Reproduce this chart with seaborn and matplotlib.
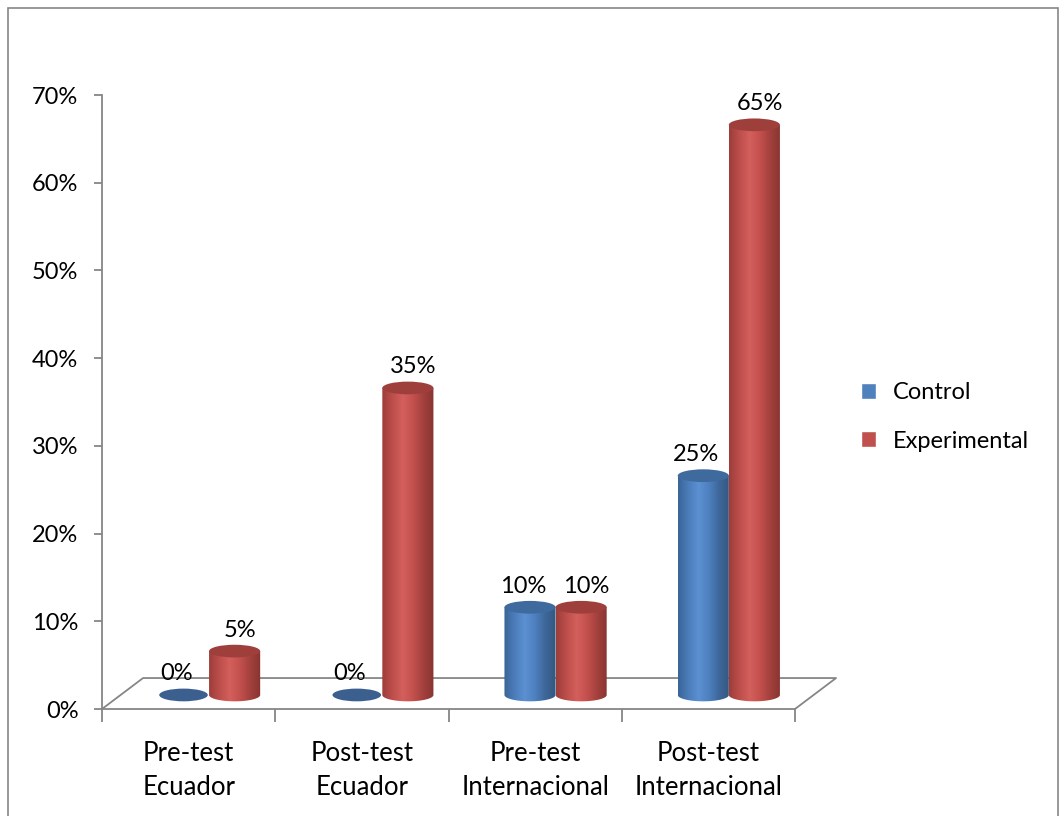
import numpy as np
import pandas as pd
import matplotlib
matplotlib.use("Agg")
import matplotlib.pyplot as plt
import seaborn as sns
from matplotlib.patches import Ellipse, PathPatch, Rectangle
from matplotlib.path import Path
from matplotlib.colors import LinearSegmentedColormap
from matplotlib.lines import Line2D

categories = ["Pre-test\nEcuador", "Post-test\nEcuador", "Pre-test\nInternacional", "Post-test\nInternacional"]
series = ["Control", "Experimental"]
control = [0, 0, 10, 25]
experimental = [5, 35, 10, 65]
yticks = [0, 10, 20, 30, 40, 50, 60, 70]
ytick_labels = ["0%", "10%", "20%", "30%", "40%", "50%", "60%", "70%"]

df = pd.DataFrame({
    "cat": categories * 2,
    "serie": [series[0]] * 4 + [series[1]] * 4,
    "val": control + experimental,
})

sns.set_theme(style="white")
plt.rcParams["font.family"] = ["Lato", "DejaVu Sans"]
plt.rcParams["text.color"] = "black"
plt.rcParams["xtick.color"] = "black"
plt.rcParams["ytick.color"] = "black"
FS = 18.5
FS_NUM = 17

W, H = 1061, 816
fig = plt.figure(figsize=(W / 100, H / 100), dpi=100)
ax = fig.add_axes([102 / W, (H - 709) / H, 693 / W, 614 / H])

colors = {"Control": "#4F81BD", "Experimental": "#C0504D"}
grad = {
    "Control": ["#3A6396", "#4C7DBA", "#5B90D2", "#4E80BE", "#3D6699", "#33577F"],
    "Experimental": ["#9C3D3A", "#BD4E4B", "#D3605C", "#C3504D", "#A2403D", "#873432"],
}
tops = {"Control": "#3E6A9E", "Experimental": "#9E3F3C"}
label_dx = {"Control": -5, "Experimental": 4}

sns.barplot(data=df, x="cat", y="val", hue="serie", order=categories,
            hue_order=series, palette=colors, width=0.59, dodge=True,
            ax=ax, saturation=1, errorbar=None)

shift = 0.118       # depth shift of the cylinders (category units)
off = 1.6           # floor-depth vertical offset (percent units)
eh = 1.45           # ellipse height (percent units)
ax.set_xlim(-0.5 - shift, 3.5 - shift)
ax.set_ylim(-off, 70 - off)

for cont, name in zip(ax.containers, series):
    cmap = LinearSegmentedColormap.from_list(name, grad[name])
    g = np.linspace(0, 1, 256).reshape(1, -1)
    for p in cont:
        x0, w, h = p.get_x(), p.get_width(), p.get_height()
        cx = x0 + w / 2
        p.set_alpha(0)
        if h > 0:
            t = np.linspace(np.pi, 2 * np.pi, 60)
            verts = [(x0, h), (x0, 0)] + list(zip(cx + w / 2 * np.cos(t), eh / 2 * np.sin(t))) + [(x0 + w, h), (x0, h)]
            codes = [Path.MOVETO] + [Path.LINETO] * (len(verts) - 2) + [Path.CLOSEPOLY]
            clip = PathPatch(Path(verts, codes), facecolor="none", edgecolor="none")
            ax.add_patch(clip)
            im = ax.imshow(g, cmap=cmap, extent=[x0, x0 + w, -eh, h], aspect="auto", zorder=2, interpolation="bilinear")
            im.set_clip_path(clip)
            ax.add_patch(Ellipse((cx, h), w, eh, facecolor=tops[name], edgecolor="none", zorder=3))
        else:
            ax.add_patch(Ellipse((cx, 0), w * 0.95, eh, facecolor="#3B5F8F", edgecolor="none", zorder=3))
        ax.annotate(f"{h:.0f}%", xy=(cx, h + eh / 2), xytext=(label_dx[name], 3), textcoords="offset points",
                    ha="center", va="bottom", fontsize=FS_NUM, color="black")

ax.set_xlim(-0.5 - shift, 3.5 - shift)
ax.set_ylim(-off, 70 - off)

# floor
gray = "#868686"
dx, dy = 0.237, 3.53
x_l, x_r = -0.5 - shift, 3.5 - shift
ax.add_line(Line2D([x_l, x_l + dx, x_r + dx, x_r], [-off, -off + dy, -off + dy, -off],
                   color=gray, lw=1.3, clip_on=False, zorder=1))

ax.set_xticks([x_l + k for k in range(5)])
ax.set_xticklabels([])
ax.set_xticks([k - shift for k in range(4)], minor=True)
ax.set_xticklabels(categories, minor=True, fontsize=FS, linespacing=1.45, color="black")
ax.tick_params(axis="x", which="major", length=9, color=gray, width=1.3, direction="out", bottom=True)
ax.tick_params(axis="x", which="minor", length=0, pad=23, bottom=True)

ax.set_yticks([v - off for v in yticks])
ax.set_yticklabels(ytick_labels, fontsize=FS_NUM, color="black")
ax.tick_params(axis="y", length=6, color=gray, width=1.3, direction="out", pad=11, left=True)

for s in ["top", "right"]:
    ax.spines[s].set_visible(False)
for s in ["left", "bottom"]:
    ax.spines[s].set_color(gray)
    ax.spines[s].set_linewidth(1.3)
ax.set_xlabel("")
ax.set_ylabel("")

sns.move_legend(ax, "center left", bbox_to_anchor=(861 / W, 1 - 417 / H),
                bbox_transform=fig.transFigure, frameon=False, title=None,
                fontsize=FS_NUM, handlelength=0.65, handleheight=0.65, labelspacing=1.15,
                handletextpad=0.7, borderpad=0, borderaxespad=0)
for t in ax.get_legend().get_texts():
    t.set_color("black")

fig.add_artist(Rectangle((8 / W, -0.01), 1050 / W, 1 - 8 / H + 0.01, transform=fig.transFigure,
                         facecolor="none", edgecolor=gray, lw=1.2, clip_on=False))

fig.savefig("out.png", dpi=100)
